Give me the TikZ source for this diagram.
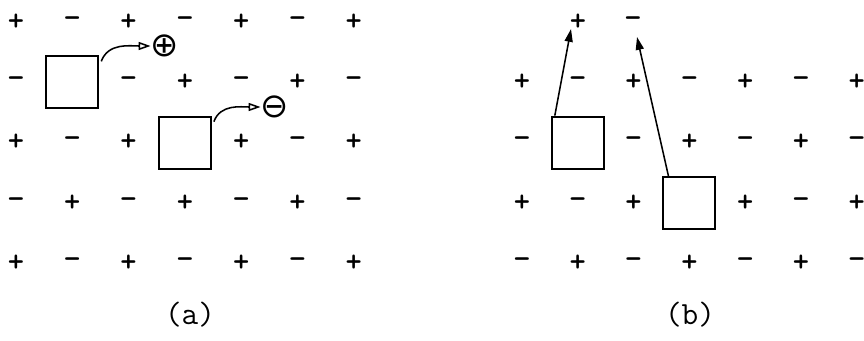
\documentclass[tikz,border=0pt]{standalone}
\usepackage{fontspec}
\newfontfamily\circfont{DejaVu Sans}
\usetikzlibrary{arrows.meta}
\tikzset{
  ion/.style={inner sep=0pt, font=\fontsize{22}{22}\selectfont\ttfamily\bfseries},
  vac/.style={draw, line width=1.4pt, minimum size=52*0.025cm, inner sep=0pt},
  freed/.style={inner sep=0pt, font=\fontsize{24}{24}\selectfont\circfont},
  hop/.style={-{Triangle[open,length=3mm,width=2mm]}, line width=1.1pt},
  jump/.style={-{Triangle[length=3.2mm,width=2mm]}, line width=1.1pt},
  caption/.style={font=\fontsize{23}{23}\selectfont\ttfamily},
}

\begin{document}
\begin{tikzpicture}[x=0.025cm, y=-0.025cm]
  \useasboundingbox (0,0) rectangle (864,341);
  % (a) lattice: sign by parity, squares at the two vacancies
  \foreach \r in {1,...,5}{
    \foreach \c in {1,...,7}{
      \pgfmathtruncatemacro\pty{mod(\r+\c,2)}
      \pgfmathtruncatemacro\hole{(\r==2 && \c==2) || (\r==3 && \c==4)}
      \ifnum\hole=1
        \node[vac] (a-\r-\c) at ({16+(\c-1)*56.3},{22+(\r-1)*60.3}) {};
      \else
        \node[ion] (a-\r-\c) at ({16+(\c-1)*56.3},{22+(\r-1)*60.3}) {\ifnum\pty=0 +\else −\fi};
      \fi
    }
  }
  % ions that left the vacancies
  \node[freed] (pA) at (165,46) {⊕};
  \node[freed] (nA) at (275,107) {⊖};
  \draw[hop] ([shift={(2,6)}]a-2-2.north east) to[out=70,in=180] (pA.west);
  \draw[hop] ([shift={(2,6)}]a-3-4.north east) to[out=70,in=180] (nA.west);
  \node[caption] (capA) at (190,315) {(a)};

  % (b) lattice, one row lower
  \foreach \r in {1,...,4}{
    \foreach \c in {1,...,7}{
      \pgfmathtruncatemacro\pty{mod(\r+\c,2)}
      \pgfmathtruncatemacro\hole{(\r==2 && \c==2) || (\r==3 && \c==4)}
      \ifnum\hole=1
        \node[vac] (b-\r-\c) at ({522+(\c-1)*55.8},{22+\r*60.3}) {};
      \else
        \node[ion] (b-\r-\c) at ({522+(\c-1)*55.8},{22+\r*60.3}) {\ifnum\pty=0 +\else −\fi};
      \fi
    }
  }
  \node[ion] (b-0-2) at (578,22) {+};
  \node[ion] (b-0-3) at (633,22) {−};
  % long jumps out of the vacancies
  \draw[jump] ([shift={(4,0)}]b-2-2.north west) -- ([shift={(-7,7)}]b-0-2.center);
  \draw[jump] ([shift={(6,0)}]b-3-4.north west) -- ([shift={(4,15)}]b-0-3.center);
  \node[caption] (capB) at (690,315) {(b)};
\end{tikzpicture}
\end{document}
